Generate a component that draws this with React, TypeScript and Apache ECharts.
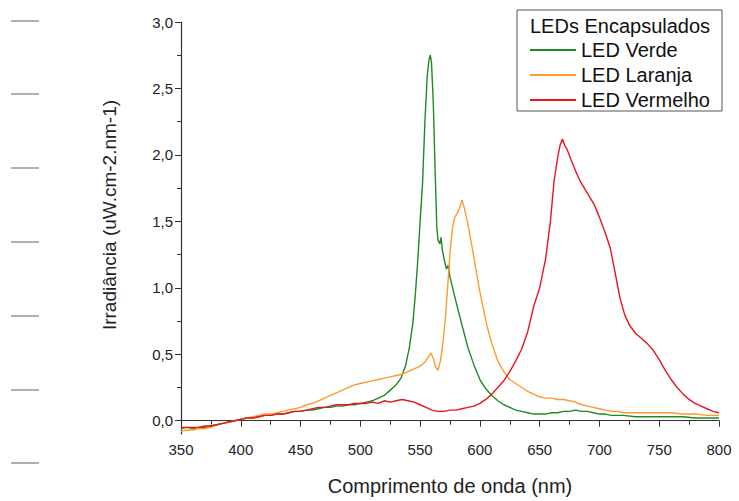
import React, { useEffect, useRef } from "react";
import * as echarts from "echarts";

// Wavelength (nm) and irradiance values
const greenNm = [350,355,360,365,370,375,380,385,390,395,400,405,410,415,420,425,430,435,440,445,450,455,460,465,470,475,480,485,490,495,500,505,510,515,520,525,530,534,538,541,544,546,548,550,552,554,556,557.5,558.5,559.5,561,562.5,564,565,566.5,567.5,568.5,570,572,573.5,575,578,581,585,590,595,600,605,610,615,620,625,630,635,640,645,650,655,660,665,670,675,680,685,690,695,700,705,710,715,720,730,740,750,760,770,780,790,800];
const greenVal = [-0.06,-0.05,-0.06,-0.05,-0.05,-0.04,-0.03,-0.02,-0.01,0.0,0.01,0.02,0.02,0.03,0.04,0.04,0.05,0.05,0.06,0.07,0.07,0.08,0.08,0.09,0.1,0.1,0.11,0.11,0.12,0.12,0.13,0.14,0.15,0.17,0.19,0.23,0.27,0.32,0.42,0.55,0.74,0.95,1.2,1.5,1.78,2.25,2.6,2.72,2.75,2.7,2.4,1.9,1.45,1.36,1.33,1.38,1.29,1.22,1.14,1.17,1.08,0.97,0.86,0.72,0.55,0.42,0.31,0.24,0.19,0.15,0.12,0.1,0.08,0.07,0.06,0.05,0.05,0.05,0.06,0.06,0.07,0.07,0.08,0.07,0.07,0.06,0.05,0.05,0.04,0.04,0.04,0.03,0.03,0.03,0.03,0.03,0.02,0.02,0.02];

const orangeNm = [350,355,360,365,370,375,380,385,390,395,400,405,410,415,420,425,430,435,440,445,450,455,460,465,470,475,480,485,490,495,500,505,510,515,520,525,530,535,540,545,550,554,557,559,561,563,565,567,569,571,573,575,577,579,581,583,585,587,589,591,594,597,600,603,606,610,615,620,625,630,635,640,645,650,655,660,665,670,675,680,685,690,695,700,705,710,715,720,730,740,750,760,770,780,790,800];
const orangeVal = [-0.08,-0.07,-0.07,-0.06,-0.06,-0.05,-0.03,-0.02,-0.01,0.0,0.01,0.02,0.03,0.04,0.05,0.05,0.06,0.07,0.08,0.09,0.1,0.12,0.13,0.15,0.17,0.19,0.21,0.23,0.25,0.27,0.28,0.29,0.3,0.31,0.32,0.33,0.34,0.35,0.37,0.39,0.41,0.44,0.48,0.51,0.47,0.4,0.38,0.45,0.58,0.76,1.0,1.26,1.45,1.53,1.56,1.6,1.66,1.6,1.52,1.43,1.28,1.12,0.97,0.84,0.71,0.58,0.45,0.37,0.31,0.28,0.25,0.22,0.2,0.18,0.17,0.17,0.16,0.16,0.15,0.14,0.12,0.11,0.1,0.09,0.08,0.07,0.07,0.06,0.06,0.06,0.06,0.06,0.05,0.05,0.04,0.04];

const redNm = [350,355,360,365,370,375,380,385,390,395,400,405,410,415,420,425,430,435,440,445,450,455,460,465,470,475,480,485,490,495,500,505,510,515,520,525,530,535,540,545,550,555,560,565,570,575,580,585,590,595,600,605,610,615,620,625,630,635,640,645,650,655,659,662,665,667,669,671,673,676,680,684,688,692,696,700,705,709,713,717,721,725,730,735,740,745,750,755,760,765,770,775,780,785,790,795,800];
const redVal = [-0.05,-0.05,-0.05,-0.05,-0.04,-0.04,-0.03,-0.02,-0.01,0.0,0.01,0.02,0.02,0.03,0.04,0.04,0.05,0.05,0.06,0.07,0.07,0.08,0.09,0.1,0.1,0.11,0.12,0.12,0.12,0.13,0.13,0.13,0.14,0.13,0.15,0.14,0.15,0.16,0.15,0.14,0.12,0.1,0.08,0.07,0.07,0.08,0.08,0.09,0.1,0.11,0.13,0.16,0.2,0.25,0.3,0.37,0.45,0.54,0.67,0.86,1.0,1.22,1.5,1.8,1.98,2.07,2.12,2.07,2.04,1.97,1.88,1.8,1.74,1.68,1.62,1.53,1.41,1.3,1.12,0.93,0.8,0.72,0.66,0.62,0.58,0.53,0.46,0.38,0.31,0.25,0.2,0.16,0.13,0.11,0.09,0.07,0.06];

const seriesNames = ["LED Verde", "LED Laranja", "LED Vermelho"];
const legendTitle = "LEDs Encapsulados";
const yLabelValues = [0, 0.5, 1.0, 1.5, 2.0, 2.5, 3.0];
const yMinorValues = [0.25, 0.75, 1.25, 1.75, 2.25, 2.75];
const xTitle = "Comprimento de onda (nm)";
const yTitle = "Irradiância (uW.cm-2.nm-1)";

const FONT = "'Liberation Sans', Arial, sans-serif";

const pair = (xs: number[], ys: number[]) => xs.map((x, i) => [x, ys[i]]);

export default function App() {
  const ref = useRef<HTMLDivElement>(null);
  useEffect(() => {
    document.body.style.margin = "0";
    if (!ref.current) return;
    const chart = echarts.init(ref.current, undefined, { renderer: "svg" });
    const dashYs = [21, 94, 168, 242, 316, 390, 463];
    chart.setOption({
      animation: false,
      backgroundColor: "#ffffff",
      grid: { left: 181, right: 20, top: 22, bottom: 66 },
      xAxis: {
        type: "value",
        min: 350,
        max: 800,
        interval: 50,
        name: xTitle,
        nameLocation: "middle",
        nameGap: 42,
        nameTextStyle: { fontFamily: FONT, fontSize: 20, color: "#222" },
        axisLine: { show: true, lineStyle: { color: "#333", width: 1.2 } },
        axisTick: { show: true, length: 6, lineStyle: { color: "#333" } },
        minorTick: { show: true, splitNumber: 2, length: 4, lineStyle: { color: "#333" } },
        axisLabel: { fontFamily: FONT, fontSize: 15, color: "#222", margin: 8 },
        splitLine: { show: false },
      },
      yAxis: [
        {
          type: "value",
          min: -0.1,
          max: 3.0,
          name: yTitle,
          nameLocation: "middle",
          nameGap: 62,
          nameRotate: 90,
          nameTextStyle: { fontFamily: FONT, fontSize: 19, color: "#222", padding: [0, 0, 0, 26] },
          axisLine: { show: true, lineStyle: { color: "#333", width: 1.2 } },
          axisTick: { show: true, length: 6, customValues: yLabelValues, lineStyle: { color: "#333" } },
          axisLabel: {
            fontFamily: FONT,
            fontSize: 15,
            color: "#222",
            margin: 8,
            customValues: yLabelValues,
            formatter: (v: number) => v.toFixed(1).replace(".", ","),
          },
          splitLine: { show: false },
        },
        {
          type: "value",
          min: -0.1,
          max: 3.0,
          position: "left",
          axisLine: { show: true, lineStyle: { color: "rgba(0,0,0,0)" } },
          axisTick: { show: true, length: 4, customValues: yMinorValues, lineStyle: { color: "#333" } },
          axisLabel: { show: false },
          splitLine: { show: false },
        },
      ],
      legend: {
        orient: "vertical",
        left: 530,
        top: 40,
        padding: 0,
        itemWidth: 46,
        itemHeight: 2,
        itemGap: 5,
        icon: "rect",
        textStyle: { fontFamily: FONT, fontSize: 20, color: "#111" },
        data: seriesNames,
      },
      series: [
        { name: seriesNames[0], type: "line", data: pair(greenNm, greenVal), showSymbol: false, symbol: "none", lineStyle: { color: "#1f8a1f", width: 1.4 }, itemStyle: { color: "#1f8a1f" } },
        { name: seriesNames[1], type: "line", data: pair(orangeNm, orangeVal), showSymbol: false, symbol: "none", lineStyle: { color: "#ff9a2e", width: 1.4 }, itemStyle: { color: "#ff9a2e" } },
        { name: seriesNames[2], type: "line", data: pair(redNm, redVal), showSymbol: false, symbol: "none", lineStyle: { color: "#e8141e", width: 1.4 }, itemStyle: { color: "#e8141e" } },
      ],
      graphic: [
        { type: "rect", shape: { x: 517, y: 10, width: 205, height: 101 }, style: { fill: "none", stroke: "#555", lineWidth: 1 } },
        { type: "text", x: 530, y: 26, style: { text: legendTitle, fontFamily: FONT, fontSize: 20, fill: "#111", verticalAlign: "middle" } },
        ...dashYs.map((y) => ({ type: "line", shape: { x1: 11, y1: y, x2: 39, y2: y }, style: { stroke: "#b0b0b0", lineWidth: 2 } })),
      ],
    });
    return () => chart.dispose();
  }, []);
  return <div ref={ref} style={{ width: 739, height: 501 }} />;
}
